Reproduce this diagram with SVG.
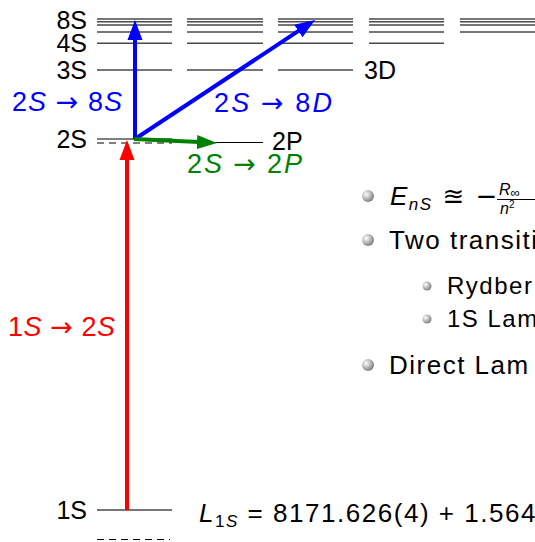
<svg xmlns="http://www.w3.org/2000/svg" width="535" height="542" viewBox="0 0 535 542">
<defs>
<style>
.lvl{stroke:#4a4a4a;stroke-width:1.6;fill:none}
.lvk{stroke:#000;stroke-width:1.2;fill:none}
.dash{stroke:#000;stroke-width:1.2;stroke-dasharray:7 5;fill:none}
.lab{font-family:"Liberation Sans",Arial,sans-serif;font-size:25px;fill:#000}
.math{font-family:"Liberation Sans",Arial,sans-serif;font-size:27px}
.arr{font-family:"DejaVu Sans",sans-serif}
.it{font-style:italic}
.txt{font-family:"Liberation Sans",Arial,sans-serif;font-size:26px;fill:#000;letter-spacing:1.5px}
.sub{font-family:"Liberation Sans",Arial,sans-serif;font-size:24px;fill:#000;letter-spacing:1.5px}
.frac{font-family:"Liberation Sans",Arial,sans-serif;font-size:16px;fill:#000}
</style>
<radialGradient id="ball" cx="0.35" cy="0.35" r="0.7">
<stop offset="0" stop-color="#ffffff"/>
<stop offset="0.5" stop-color="#bdbdbd"/>
<stop offset="1" stop-color="#7a7a7a"/>
</radialGradient>
<marker id="hr" markerUnits="userSpaceOnUse" markerWidth="22" markerHeight="16" viewBox="0 -8 22 16" refX="2" refY="0" orient="auto"><path d="M0,-7.5 L20,0 L0,7.5 z" fill="#ff0000"/></marker>
<marker id="hb" markerUnits="userSpaceOnUse" markerWidth="22" markerHeight="16" viewBox="0 -8 22 16" refX="2" refY="0" orient="auto"><path d="M0,-7.5 L20,0 L0,7.5 z" fill="#0000ff"/></marker>
<marker id="hg" markerUnits="userSpaceOnUse" markerWidth="22" markerHeight="16" viewBox="0 -8 22 16" refX="2" refY="0" orient="auto"><path d="M0,-7 L20,0 L0,7 z" fill="#008000"/></marker>
</defs>

<g id="levels">
<g id="col-S">
<line class="lvl" x1="97" y1="19" x2="172" y2="19"/>
<line class="lvl" x1="97" y1="21.7" x2="172" y2="21.7"/>
<line class="lvl" x1="97" y1="25" x2="172" y2="25"/>
<line class="lvl" x1="97" y1="32" x2="172" y2="32"/>
<line class="lvl" x1="97" y1="43.3" x2="172" y2="43.3"/>
<line class="lvl" x1="97" y1="70" x2="172" y2="70"/>
<line class="lvk" x1="97" y1="139" x2="172" y2="139"/>
<line class="dash" x1="97" y1="143" x2="172" y2="143"/>
<line class="lvl" x1="97" y1="510" x2="172" y2="510"/>
<line class="dash" x1="97" y1="539.5" x2="170" y2="539.5" stroke-dasharray="8 7"/>
</g>
<g id="col-P">
<line class="lvl" x1="187" y1="19" x2="263" y2="19"/>
<line class="lvl" x1="187" y1="21.7" x2="263" y2="21.7"/>
<line class="lvl" x1="187" y1="25" x2="263" y2="25"/>
<line class="lvl" x1="187" y1="32" x2="263" y2="32"/>
<line class="lvl" x1="187" y1="43.3" x2="263" y2="43.3"/>
<line class="lvl" x1="187" y1="70" x2="263" y2="70"/>
<line class="lvk" x1="187" y1="142.5" x2="263" y2="142.5"/>
</g>
<g id="col-D">
<line class="lvl" x1="278" y1="19" x2="353" y2="19"/>
<line class="lvl" x1="278" y1="21.7" x2="353" y2="21.7"/>
<line class="lvl" x1="278" y1="25" x2="353" y2="25"/>
<line class="lvl" x1="278" y1="32" x2="353" y2="32"/>
<line class="lvl" x1="278" y1="43.3" x2="353" y2="43.3"/>
<line class="lvl" x1="278" y1="70" x2="353" y2="70"/>
</g>
<g id="col-F">
<line class="lvl" x1="369" y1="19" x2="444" y2="19"/>
<line class="lvl" x1="369" y1="21.7" x2="444" y2="21.7"/>
<line class="lvl" x1="369" y1="25" x2="444" y2="25"/>
<line class="lvl" x1="369" y1="32" x2="444" y2="32"/>
<line class="lvl" x1="369" y1="43.3" x2="444" y2="43.3"/>
</g>
<g id="col-G">
<line class="lvl" x1="460" y1="19" x2="535" y2="19"/>
<line class="lvl" x1="460" y1="21.7" x2="535" y2="21.7"/>
<line class="lvl" x1="460" y1="25" x2="535" y2="25"/>
<line class="lvl" x1="460" y1="32" x2="535" y2="32"/>
</g>
</g>

<g id="labels">
<text class="lab" x="87" y="29" text-anchor="end">8S</text>
<text class="lab" x="87" y="52" text-anchor="end">4S</text>
<text class="lab" x="87" y="79" text-anchor="end">3S</text>
<text class="lab" x="87" y="148" text-anchor="end">2S</text>
<text class="lab" x="87" y="519" text-anchor="end">1S</text>
<text class="lab" x="364" y="79">3D</text>
<text class="lab" x="272" y="150">2P</text>
</g>

<g id="connectors">
<line x1="127" y1="510" x2="127" y2="158" stroke="#ff0000" stroke-width="4" marker-end="url(#hr)"/>
<line x1="135" y1="139" x2="135" y2="38" stroke="#0000ff" stroke-width="4" marker-end="url(#hb)"/>
<line x1="135" y1="139" x2="300" y2="29.9" stroke="#0000ff" stroke-width="4" marker-end="url(#hb)"/>
<line x1="134" y1="139" x2="199" y2="142.1" stroke="#008000" stroke-width="4" marker-end="url(#hg)"/>
</g>

<g id="transition-labels">
<text class="math" x="12" y="111" fill="#0000ff" textLength="110">2<tspan class="it">S</tspan> <tspan class="arr">→</tspan> 8<tspan class="it">S</tspan></text>
<text class="math" x="214" y="112" fill="#0000ff" textLength="118">2<tspan class="it">S</tspan> <tspan class="arr">→</tspan> 8<tspan class="it">D</tspan></text>
<text class="math" x="187" y="173" fill="#008000" textLength="115">2<tspan class="it">S</tspan> <tspan class="arr">→</tspan> 2<tspan class="it">P</tspan></text>
<text class="math" x="8" y="336" fill="#ff0000" textLength="107">1<tspan class="it">S</tspan> <tspan class="arr">→</tspan> 2<tspan class="it">S</tspan></text>
</g>

<g id="bullets">
<circle cx="368" cy="196" r="6" fill="url(#ball)"/>
<text class="txt" x="390" y="205" letter-spacing="0"><tspan class="it">E</tspan><tspan class="it" font-size="17" dy="5">nS</tspan><tspan dy="-5" class="arr"> ≊ −</tspan></text>
<text class="frac" x="499" y="195"><tspan class="it">R</tspan><tspan font-size="13" dy="2">∞</tspan></text>
<line x1="497" y1="199.5" x2="535" y2="199.5" stroke="#000" stroke-width="1"/>
<text class="frac" x="500" y="214"><tspan class="it">n</tspan><tspan font-size="10" dy="-6">2</tspan></text>

<circle cx="368" cy="240" r="6" fill="url(#ball)"/>
<text class="txt" x="389" y="249">Two transiti</text>

<circle cx="427" cy="286" r="4.5" fill="url(#ball)"/>
<text class="sub" x="447" y="294">Rydber</text>
<circle cx="427" cy="319" r="4.5" fill="url(#ball)"/>
<text class="sub" x="447" y="327">1S Lam</text>

<circle cx="368" cy="365" r="6" fill="url(#ball)"/>
<text class="txt" x="389" y="374">Direct Lam</text>

<text class="txt" x="199" y="522" letter-spacing="0" textLength="338"><tspan class="it">L</tspan><tspan font-size="17" dy="5">1<tspan class="it">S</tspan></tspan><tspan dy="-5"> = 8171.626(4) + 1.564</tspan></text>
</g>
</svg>
